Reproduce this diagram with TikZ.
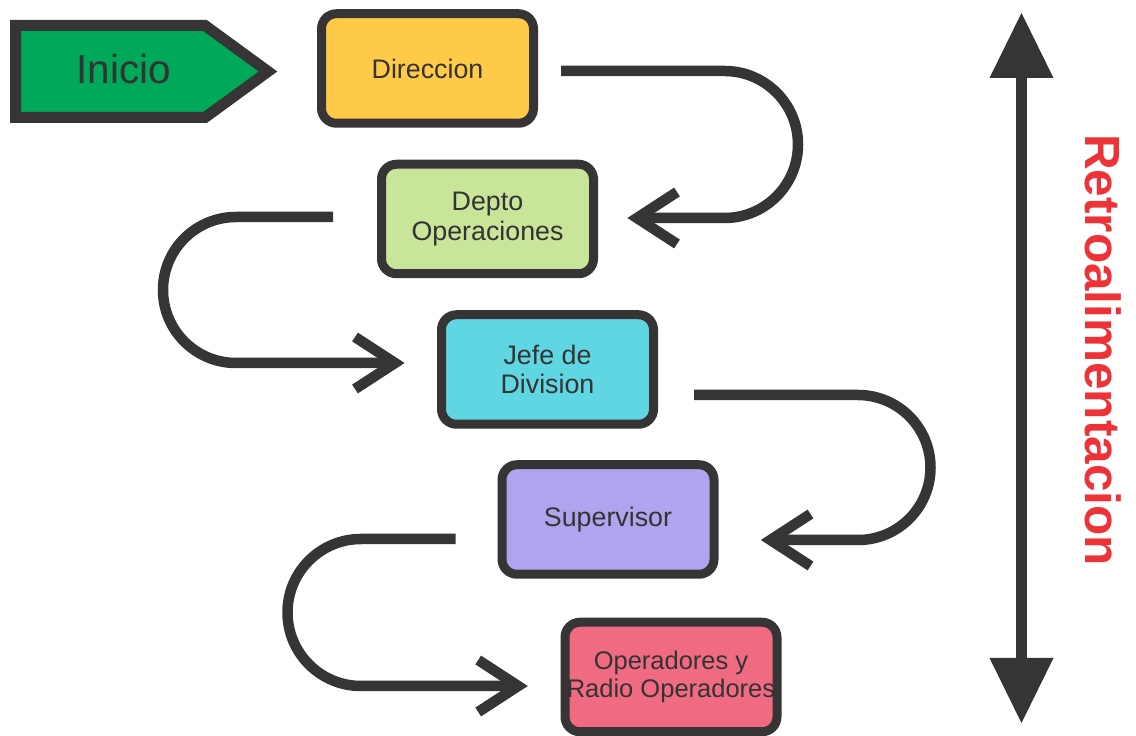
\documentclass[tikz,border=0pt]{standalone}
\usepackage{fontspec}
\setmainfont{Liberation Sans}
\usetikzlibrary{calc}

\definecolor{ink}{HTML}{363435}
\definecolor{txt}{HTML}{333333}
\definecolor{startgreen}{HTML}{00A859}
\definecolor{cYellow}{HTML}{FFCA47}
\definecolor{cLime}{HTML}{C9E59A}
\definecolor{cCyan}{HTML}{61D6E3}
\definecolor{cLavender}{HTML}{B0A4EE}
\definecolor{cRose}{HTML}{F06A82}
\definecolor{fbred}{HTML}{EE3338}

\begin{document}
\begin{tikzpicture}[x=1pt,y=1pt,
  stepbox/.style={draw=ink, line width=9pt, rounded corners=15pt,
    minimum width=212pt, minimum height=109.5pt, inner sep=0pt,
    align=center, text=txt, font=\fontsize{26.8}{29.5}\selectfont},
  flow/.style={draw=ink, line width=10.5pt, line cap=butt},
  chev/.style={draw=ink, line width=10.5pt, line cap=butt, line join=miter}]

\useasboundingbox (0,0) rectangle (1136,736);

% start marker
\draw[draw=ink, fill=startgreen, line width=11pt, line join=miter]
  (15.5,710.5) -- (205,710.5) -- (268,664.5) -- (205,618.5) -- (15.5,618.5) -- cycle;
\node[anchor=base, text=txt, font=\fontsize{40.5}{45}\selectfont, inner sep=0pt]
  (ini) at (124,652) {Inicio};

% hierarchy boxes
\node[stepbox, fill=cYellow]   (dir) at (427.5,667.5) {Direccion};
\node[stepbox, fill=cLime]     (dep) at (487.5,517)   {Depto\\Operaciones};
\node[stepbox, fill=cCyan]     (jef) at (547.5,366.5) {Jefe de\\Division};
\node[stepbox, fill=cLavender] (sup) at (608,216.5)   {Supervisor};
\node[stepbox, fill=cRose, font=\fontsize{25.5}{27.5}\selectfont]
                               (ope) at (671,59)      {Operadores y\\Radio Operadores};

% connectors: U-turns between consecutive boxes
\draw[flow] ($(dir.east)+(23,-2.5)$) -- ++(163.5,0)
  arc[start angle=90, end angle=-90, radius=73.5]
  -- ($(dep.east)+(39,1)$) coordinate (t1);
\draw[chev] ($(t1)+(40,26)$) -- (t1) -- ($(t1)+(40,-26)$);

\draw[flow] ($(dep.west)+(-44,2)$) -- ++(-97,0)
  arc[start angle=90, end angle=270, radius=73]
  -- ($(jef.west)+(-42,6.5)$) coordinate (t2);
\draw[chev] ($(t2)+(-40,26)$) -- (t2) -- ($(t2)+(-40,-26)$);

\draw[flow] ($(jef.east)+(36,-25.5)$) -- ++(164,0)
  arc[start angle=90, end angle=-90, radius=72.5]
  -- ($(sup.east)+(52,-20.5)$) coordinate (t3);
\draw[chev] ($(t3)+(40,26)$) -- (t3) -- ($(t3)+(40,-26)$);

\draw[flow] ($(sup.west)+(-42,-19.5)$) -- ++(-94.5,0)
  arc[start angle=90, end angle=270, radius=73.5]
  -- ($(ope.west)+(-42.3,-9)$) coordinate (t4);
\draw[chev] ($(t4)+(-40,26)$) -- (t4) -- ($(t4)+(-40,-26)$);

% feedback double arrow
\coordinate (fbtop) at (1021.5,723);
\coordinate (fbbot) at (1021.5,13);
\draw[draw=ink, line width=11pt] ($(fbtop)+(0,-60)$) -- ($(fbbot)+(0,60)$);
\fill[ink] (fbtop) -- ++(-32,-65) -- ++(64,0) -- cycle;
\fill[ink] (fbbot) -- ++(-32,65) -- ++(64,0) -- cycle;

\node[rotate=-90, anchor=base, text=fbred, inner sep=0pt,
  font=\bfseries\fontsize{49.5}{55}\selectfont] (fb) at (1085,386) {Retroalimentacion};

\end{tikzpicture}
\end{document}
